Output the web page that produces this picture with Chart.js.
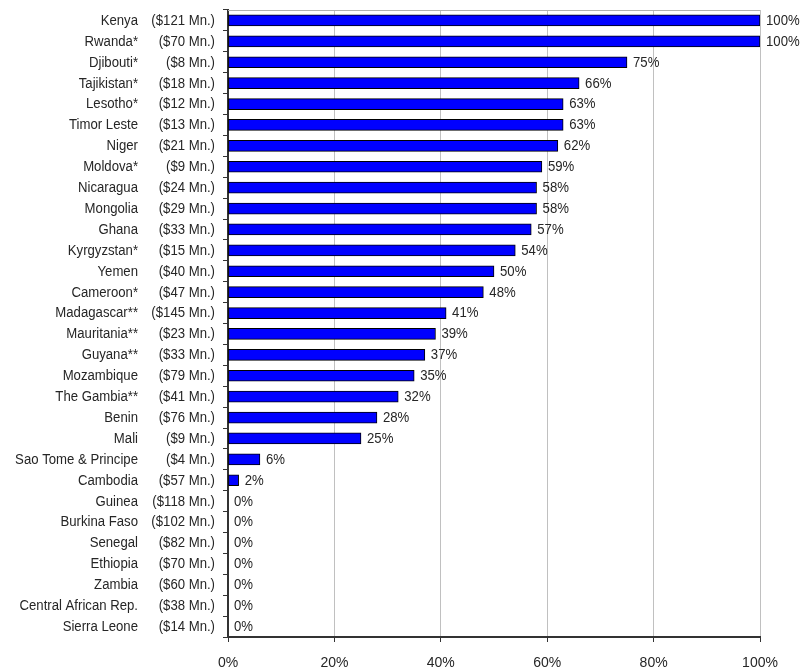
<!DOCTYPE html>
<html>
<head>
<meta charset="utf-8">
<script src="https://cdn.jsdelivr.net/npm/chart.js@4/dist/chart.umd.min.js"></script>
<style>
  html, body { margin: 0; padding: 0; background: #fff; }
  #wrap { width: 802px; height: 671px; }
</style>
</head>
<body>
<div id="wrap"><canvas id="chart" width="802" height="671"></canvas></div>
<script>
const countries = ['Kenya', 'Rwanda*', 'Djibouti*', 'Tajikistan*', 'Lesotho*', 'Timor Leste', 'Niger', 'Moldova*',
    'Nicaragua', 'Mongolia', 'Ghana', 'Kyrgyzstan*', 'Yemen', 'Cameroon*', 'Madagascar**', 'Mauritania**',
    'Guyana**', 'Mozambique', 'The Gambia**', 'Benin', 'Mali', 'Sao Tome & Principe', 'Cambodia', 'Guinea',
    'Burkina Faso', 'Senegal', 'Ethiopia', 'Zambia', 'Central African Rep.', 'Sierra Leone'];
const amounts = ['($121 Mn.)', '($70 Mn.)', '($8 Mn.)', '($18 Mn.)', '($12 Mn.)', '($13 Mn.)', '($21 Mn.)', '($9 Mn.)',
    '($24 Mn.)', '($29 Mn.)', '($33 Mn.)', '($15 Mn.)', '($40 Mn.)', '($47 Mn.)', '($145 Mn.)', '($23 Mn.)',
    '($33 Mn.)', '($79 Mn.)', '($41 Mn.)', '($76 Mn.)', '($9 Mn.)', '($4 Mn.)', '($57 Mn.)', '($118 Mn.)',
    '($102 Mn.)', '($82 Mn.)', '($70 Mn.)', '($60 Mn.)', '($38 Mn.)', '($14 Mn.)'];
const shares = [100, 100, 75, 66, 63, 63, 62, 59, 58, 58, 57, 54, 50, 48, 41, 39, 37, 35, 32, 28, 25, 6, 2,
    0, 0, 0, 0, 0, 0, 0];
const xTicks = [0, 20, 40, 60, 80, 100];

const fontFamily = "'Liberation Sans', Arial, sans-serif";
const textColor = '#262626';

// narrowed text, like the condensed font of the original
function narrowText(ctx, text, x, y, align) {
    const sx = 0.94;
    ctx.save();
    ctx.translate(x, y);
    ctx.scale(sx, 1);
    ctx.textAlign = align;
    ctx.fillText(text, 0, 0);
    ctx.restore();
}

// two-column category labels + value labels + top frame line
const labelPlugin = {
    id: 'labelPlugin',
    afterDraw(chart) {
        const ctx = chart.ctx;
        const y = chart.scales.y;
        const x = chart.scales.x;
        const area = chart.chartArea;
        ctx.save();
        // top frame
        ctx.strokeStyle = '#b0b0b0';
        ctx.lineWidth = 1;
        ctx.beginPath();
        ctx.moveTo(area.left, area.top + 0.5);
        ctx.lineTo(area.right, area.top + 0.5);
        ctx.stroke();

        ctx.font = '14px ' + fontFamily;
        ctx.fillStyle = textColor;
        ctx.textBaseline = 'middle';
        countries.forEach((name, i) => {
            const py = y.getPixelForValue(i) + 0.5;
            narrowText(ctx, name, 138, py, 'right');
            narrowText(ctx, amounts[i], 215, py, 'right');
            narrowText(ctx, shares[i] + '%', x.getPixelForValue(shares[i]) + 6, py, 'left');
        });
        ctx.restore();
    }
};

new Chart(document.getElementById('chart'), {
    type: 'bar',
    data: {
        labels: countries,
        datasets: [{
            data: shares,
            backgroundColor: '#0000ff',
            borderColor: '#000',
            borderWidth: 1,
            barThickness: 11,
            borderSkipped: false
        }]
    },
    plugins: [labelPlugin],
    options: {
        indexAxis: 'y',
        responsive: false,
        animation: false,
        layout: { padding: { top: 10, right: 42, left: 0, bottom: 0 } },
        plugins: { legend: { display: false }, tooltip: { enabled: false } },
        scales: {
            x: {
                min: 0,
                max: 100,
                afterBuildTicks: axis => { axis.ticks = xTicks.map(v => ({ value: v })); },
                ticks: {
                    callback: v => v + '%',
                    color: textColor,
                    font: { family: fontFamily, size: 14 },
                    padding: 13,
                    maxRotation: 0
                },
                grid: { color: '#c0c0c0', tickColor: '#333', tickLength: 5 },
                border: { color: '#333', width: 2 },
                afterFit: axis => { axis.height = 34; }
            },
            y: {
                ticks: { display: false },
                grid: { drawOnChartArea: false, tickColor: '#333', tickLength: 5, offset: true },
                border: { color: '#333', width: 2 },
                afterFit: axis => { axis.width = 228; }
            }
        }
    }
});
</script>
</body>
</html>
